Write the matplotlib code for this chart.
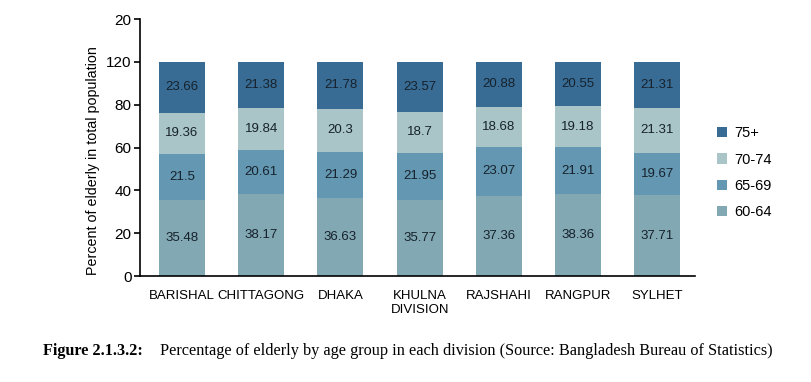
import matplotlib.pyplot as plt
import numpy as np

plt.rcParams['font.family'] = ['Liberation Sans', 'DejaVu Sans']

divisions = ["BARISHAL", "CHITTAGONG", "DHAKA", "KHULNA\nDIVISION",
             "RAJSHAHI", "RANGPUR", "SYLHET"]
age_60_64 = [35.48, 38.17, 36.63, 35.77, 37.36, 38.36, 37.71]
age_65_69 = [21.5, 20.61, 21.29, 21.95, 23.07, 21.91, 19.67]
age_70_74 = [19.36, 19.84, 20.3, 18.7, 18.68, 19.18, 21.31]
age_75p = [23.66, 21.38, 21.78, 23.57, 20.88, 20.55, 21.31]
groups = ["60-64", "65-69", "70-74", "75+"]
ytick_vals = [0, 20, 40, 60, 80, 100, 120]
ytick_labels = ["0", "20", "40", "60", "80", "120", "20"]

colors = {"60-64": "#82a8b3", "65-69": "#6397b2", "70-74": "#a9c5c7", "75+": "#386c95"}

fig = plt.figure(figsize=(8.12, 3.82), dpi=100)
ax = fig.add_axes([0.1724, 0.277, 0.684, 0.673])

x = np.arange(len(divisions))
bottom = np.zeros(len(divisions))
handles = {}
for name, vals in zip(groups, [age_60_64, age_65_69, age_70_74, age_75p]):
    vals = np.array(vals)
    b = ax.bar(x, vals, 0.58, bottom=bottom, color=colors[name], label=name)
    handles[name] = b
    for xi, v, bt in zip(x, vals, bottom):
        ax.text(xi, bt + v / 2, f"{v:g}", ha="center", va="center",
                fontsize=9.5, color="#16222c")
    bottom += vals

ax.set_xlim(-0.53, 6.48)
ax.set_ylim(0, 120)
ax.set_yticks(ytick_vals)
ax.set_yticklabels(ytick_labels, fontsize=11)
ax.set_xticks(x)
ax.set_xticklabels(divisions, fontsize=9.5, va="top", linespacing=1.25)
ax.tick_params(axis="x", length=0, pad=10)
ax.tick_params(axis="y", length=4, width=1.2, pad=2)
for s in ["top", "right"]:
    ax.spines[s].set_visible(False)
ax.spines["left"].set_linewidth(1.2)
ax.spines["bottom"].set_linewidth(1.2)
ax.set_ylabel("Percent of elderly in total population", fontsize=10.3)
ax.yaxis.set_label_coords(-0.072, 0.45)

order = ["75+", "70-74", "65-69", "60-64"]
fig.legend([handles[k] for k in order], order, loc="upper left",
           bbox_to_anchor=(0.876, 0.685), frameon=False, fontsize=10.5,
           handlelength=0.7, handleheight=0.7, handletextpad=0.45,
           labelspacing=0.85, borderaxespad=0)

fig.text(0.053, 0.07, "Figure 2.1.3.2:", family="Liberation Serif",
         fontweight="bold", fontsize=11.7)
fig.text(0.197, 0.07, "Percentage of elderly by age group in each division "
         "(Source: Bangladesh Bureau of Statistics)",
         family="Liberation Serif", fontsize=11.7)

fig.savefig("out.png", dpi=100)
